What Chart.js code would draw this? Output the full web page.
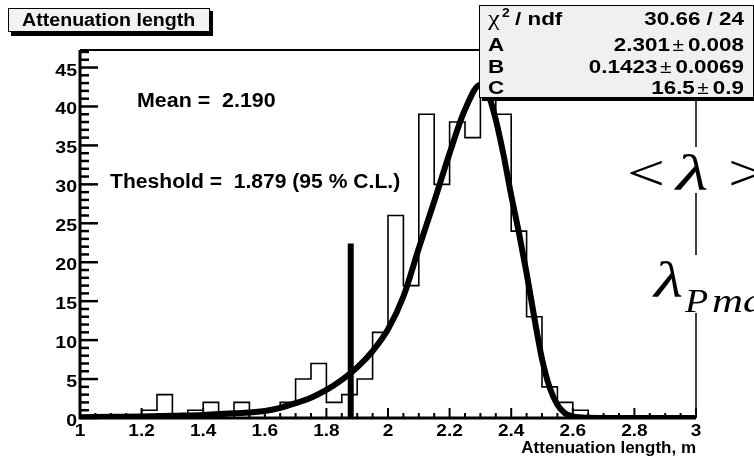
<!DOCTYPE html>
<html>
<head>
<meta charset="utf-8">
<title>Attenuation length</title>
<script src="https://cdn.jsdelivr.net/npm/chart.js@4.4.1/dist/chart.umd.min.js"></script>
<style>
  html, body { margin: 0; padding: 0; background: #fff; }
  canvas { display: block; }
</style>
</head>
<body>
<canvas id="att-chart" width="754" height="457"></canvas>
<script>
// histogram: 40 bins of 0.05 m from 1.0 to 3.0
const binLow = 1.0;
const binWidth = 0.05;
const binCounts = [
  0, 0, 0, 0, 1, 3, 0, 1, 2, 0,
  2, 0, 1, 2, 5, 7, 2, 3, 5, 11,
  26, 17, 39, 30, 38, 36, 45, 39, 24, 13,
  4, 2, 1, 0, 0, 0, 0, 0, 0, 0
];

// fitted curve, sampled along x
const fitX = [1.0, 1.1, 1.2, 1.3, 1.4, 1.5, 1.6, 1.65, 1.7, 1.75, 1.8, 1.85, 1.9, 1.95, 2.0, 2.05, 2.1, 2.15, 2.2, 2.25, 2.3, 2.325, 2.35, 2.375, 2.4, 2.425, 2.45, 2.475, 2.5, 2.525, 2.55, 2.575, 2.6, 2.65, 2.7, 2.8, 2.9, 3.0];
const fitY = [0.1, 0.15, 0.2, 0.3, 0.4, 0.6, 0.9, 1.3, 1.9, 2.6, 3.6, 4.9, 6.5, 8.6, 11.4, 15.6, 21.8, 27.8, 34.0, 39.6, 42.8, 41.6, 38.3, 33.8, 28.6, 23.8, 18.6, 12.9, 7.6, 3.9, 1.7, 0.6, 0.2, 0.02, 0, 0, 0, 0];

// threshold marker
const threshold = 1.879;
const thresholdHeight = 22.4;

const xTickLabels = ['1', '1.2', '1.4', '1.6', '1.8', '2', '2.2', '2.4', '2.6', '2.8', '3'];
const yTickLabels = ['0', '5', '10', '15', '20', '25', '30', '35', '40', '45'];

const fitRows = [
  ['A', '2.301', '0.008'],
  ['B', '0.1423', '0.0069'],
  ['C', '16.5', '0.9']
];
const chi2ndf = '30.66 / 24';

const SANS = "'Liberation Sans', Arial, Helvetica, sans-serif";
const SERIF = "'Liberation Serif', 'Times New Roman', serif";

const histPoints = binCounts.map((c, i) => ({ x: binLow + i * binWidth, y: c }));
histPoints.push({ x: binLow + binCounts.length * binWidth, y: binCounts[binCounts.length - 1] });

const fitPoints = fitX.map((x, i) => ({ x, y: fitY[i] }));

// text with a horizontal stretch factor
function drawText(ctx, text, x, y, font, align, sx) {
  ctx.save();
  ctx.font = font;
  ctx.textAlign = align;
  ctx.translate(x, y);
  ctx.scale(sx, 1);
  ctx.fillText(text, 0, 0);
  ctx.restore();
}

const decorations = {
  id: 'decorations',
  afterDatasetsDraw(chart) {
    const ctx = chart.ctx;
    const xs = chart.scales.x;
    const ys = chart.scales.y;
    const area = chart.chartArea;

    ctx.save();
    ctx.strokeStyle = '#000';
    ctx.fillStyle = '#000';
    ctx.textBaseline = 'alphabetic';

    // frame top and right
    ctx.lineWidth = 2;
    ctx.beginPath();
    ctx.moveTo(area.left, area.top);
    ctx.lineTo(area.right, area.top);
    ctx.stroke();
    ctx.lineWidth = 1.5;
    ctx.beginPath();
    ctx.moveTo(area.right, area.top);
    ctx.lineTo(area.right, area.bottom);
    ctx.stroke();

    // y axis
    ctx.lineWidth = 3;
    ctx.beginPath();
    ctx.moveTo(area.left, area.top);
    ctx.lineTo(area.left, area.bottom + 1);
    ctx.stroke();
    ctx.lineWidth = 2.5;
    for (let v = 0; v <= 47; v++) {
      const py = ys.getPixelForValue(v);
      const len = v % 5 === 0 ? 18 : 9;
      ctx.beginPath();
      ctx.moveTo(area.left, py);
      ctx.lineTo(area.left + len, py);
      ctx.stroke();
    }
    yTickLabels.forEach((lab) => {
      drawText(ctx, lab, area.left - 3, ys.getPixelForValue(Number(lab)) + 8, 'bold 17px ' + SANS, 'right', 1.15);
    });

    // x axis
    ctx.lineWidth = 3;
    ctx.beginPath();
    ctx.moveTo(area.left - 1, area.bottom);
    ctx.lineTo(area.right, area.bottom);
    ctx.stroke();
    ctx.lineWidth = 2;
    for (let i = 0; i <= 40; i++) {
      const px = xs.getPixelForValue(1 + i * 0.05);
      const len = i % 4 === 0 ? 10 : 5;
      ctx.beginPath();
      ctx.moveTo(px, area.bottom);
      ctx.lineTo(px, area.bottom - len);
      ctx.stroke();
    }
    xTickLabels.forEach((lab) => {
      drawText(ctx, lab, xs.getPixelForValue(Number(lab)), area.bottom + 18, 'bold 17px ' + SANS, 'center', 1.12);
    });
    drawText(ctx, 'Attenuation length, m', area.right, area.bottom + 35, 'bold 17px ' + SANS, 'right', 1);

    // annotations
    drawText(ctx, 'Mean =  2.190', 137, 107, 'bold 20px ' + SANS, 'left', 1.07);
    drawText(ctx, 'Theshold =  1.879 (95 % C.L.)', 110, 188, 'bold 20px ' + SANS, 'left', 1.055);

    // title box
    ctx.fillStyle = '#000';
    ctx.fillRect(11, 11, 202, 25);
    ctx.fillStyle = '#f2f2f2';
    ctx.fillRect(8, 8, 202, 24);
    ctx.lineWidth = 1;
    ctx.strokeRect(8.5, 8.5, 201, 23);
    ctx.fillStyle = '#000';
    drawText(ctx, 'Attenuation length', 22, 26, 'bold 18px ' + SANS, 'left', 1.09);

    // fit statistics box
    ctx.fillStyle = '#000';
    ctx.fillRect(482, 8, 272, 93);
    ctx.fillStyle = '#f0f0f0';
    ctx.fillRect(479, 5, 274, 93);
    ctx.strokeRect(479.5, 5.5, 274, 92);
    ctx.fillStyle = '#000';
    const statFont = 'bold 19px ' + SANS;
    drawText(ctx, '\u03c7', 488, 25, '22px ' + SERIF, 'left', 1.2);
    drawText(ctx, '2', 502, 17, 'bold 12px ' + SANS, 'left', 1.15);
    drawText(ctx, '/ ndf', 515, 25, statFont, 'left', 1.18);
    drawText(ctx, chi2ndf, 744, 25, statFont, 'right', 1.18);
    const rowBase = [51, 72.5, 94];
    fitRows.forEach((row, i) => {
      drawText(ctx, row[0], 488, rowBase[i], statFont, 'left', 1.18);
      drawText(ctx, row[2], 744, rowBase[i], statFont, 'right', 1.18);
      ctx.font = statFont;
      const w2 = ctx.measureText(row[2]).width * 1.18;
      drawText(ctx, '\u00b1', 744 - w2 - 4, rowBase[i], '19px ' + SANS, 'right', 1.1);
      drawText(ctx, row[1], 744 - w2 - 18, rowBase[i], statFont, 'right', 1.18);
    });

    // lambda labels on the right edge, boxed in white
    ctx.fillStyle = '#fff';
    ctx.fillRect(622, 147, 132, 46);
    ctx.fillRect(612, 255, 142, 58);
    ctx.fillStyle = '#000';
    drawText(ctx, '<', 627, 190, '50px ' + SERIF, 'left', 1.35);
    drawText(ctx, '>', 728, 190, '50px ' + SERIF, 'left', 1.35);
    drawText(ctx, '\u03bb', 676, 190, 'italic 50px ' + SERIF, 'left', 1.5);
    drawText(ctx, '\u03bb', 654, 297, 'italic 50px ' + SERIF, 'left', 1.35);
    drawText(ctx, 'P', 685, 312, 'italic 33px ' + SERIF, 'left', 1.15);
    drawText(ctx, 'max', 712, 312, 'italic 33px ' + SERIF, 'left', 1.3);

    ctx.restore();
  }
};

new Chart(document.getElementById('att-chart'), {
  type: 'line',
  data: {
    datasets: [
      {
        label: 'histogram',
        data: histPoints,
        stepped: 'before',
        borderColor: '#000',
        borderWidth: 1.6,
        pointRadius: 0,
        fill: false
      },
      {
        label: 'fit',
        data: fitPoints,
        borderColor: '#000',
        borderWidth: 6,
        pointRadius: 0,
        cubicInterpolationMode: 'monotone',
        fill: false
      },
      {
        label: 'threshold',
        data: [{ x: threshold, y: 0 }, { x: threshold, y: thresholdHeight }],
        borderColor: '#000',
        borderWidth: 6,
        borderCapStyle: 'butt',
        pointRadius: 0,
        fill: false
      }
    ]
  },
  options: {
    responsive: false,
    animation: false,
    devicePixelRatio: 1,
    layout: { padding: { left: 80, right: 58, top: 50, bottom: 39 } },
    plugins: {
      legend: { display: false },
      tooltip: { enabled: false }
    },
    scales: {
      x: { type: 'linear', min: 1, max: 3, display: false },
      y: { type: 'linear', min: 0, max: 47.25, display: false }
    }
  },
  plugins: [decorations]
});
</script>
</body>
</html>
